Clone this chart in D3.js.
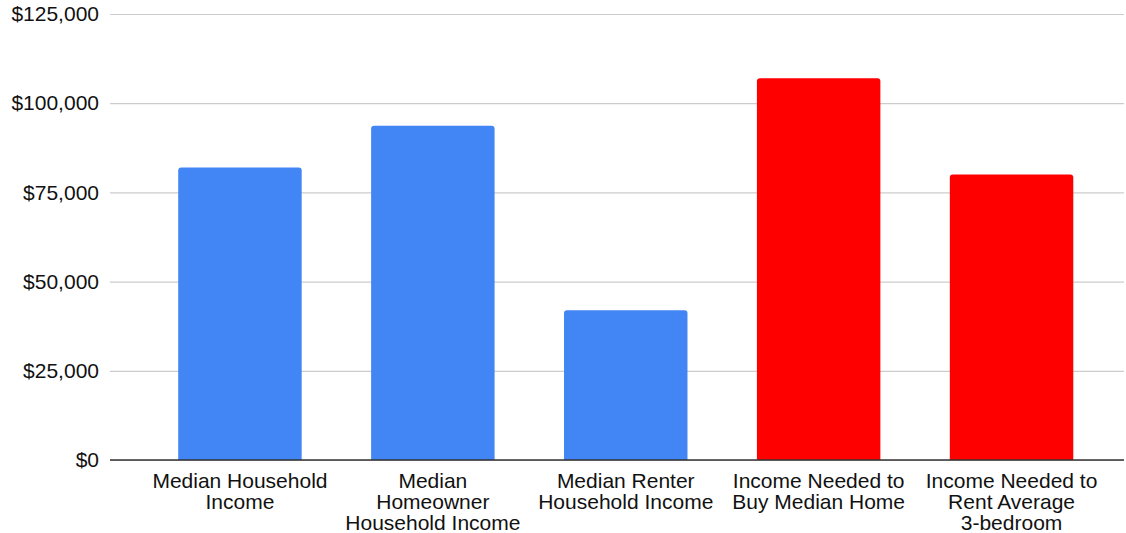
<!DOCTYPE html>
<html>
<head>
<meta charset="utf-8">
<script src="https://cdn.jsdelivr.net/npm/d3@7"></script>
<style>
  html, body { margin: 0; padding: 0; background: #ffffff; }
  svg { display: block; }
  text { font-family: "Liberation Sans", Arial, Helvetica, sans-serif; fill: #111111; }
</style>
</head>
<body>
<svg id="chart" width="1126" height="533"></svg>
<script>
// Category labels (each entry is the wrapped lines of one label)
const categories = [
  ["Median Household", "Income"],
  ["Median", "Homeowner", "Household Income"],
  ["Median Renter", "Household Income"],
  ["Income Needed to", "Buy Median Home"],
  ["Income Needed to", "Rent Average", "3-bedroom"]
];
// Annual income in dollars
const values = [82000, 93700, 42000, 107000, 80000];
// Bar colour group: income households have vs. income required
const groups = ["have", "have", "have", "need", "need"];
const tickValues = [0, 25000, 50000, 75000, 100000, 125000];

const colors = { have: "#4285f4", need: "#ff0000" };

const svg = d3.select("#chart");
const W = 1126, H = 533;
const margin = { left: 110, right: 2, top: 14, bottom: 73 };
const y0 = H - margin.bottom;

const keys = categories.map((d, i) => i);
const x = d3.scaleBand()
  .domain(keys)
  .range([143.5, 1108])
  .paddingInner(0.36)
  .paddingOuter(0.18);

const y = d3.scaleLinear()
  .domain([0, 125000])
  .range([y0, margin.top]);

const fmt = v => "$" + d3.format(",")(v);

// Horizontal gridlines with dollar labels on the left
const yAxis = d3.axisLeft(y)
  .tickValues(tickValues)
  .tickFormat(fmt)
  .tickSize(-(W - margin.right - margin.left))
  .tickPadding(11);

const gy = svg.append("g")
  .attr("transform", `translate(${margin.left},0)`)
  .call(yAxis);
gy.select(".domain").remove();
gy.selectAll(".tick line").attr("stroke", "#cccccc").attr("stroke-width", 1.2);
gy.selectAll(".tick text")
  .style("font-size", "21px")
  .attr("fill", "#111111");

// Bars with slightly rounded top corners
const r = 3;
function barPath(x0, w, yt, yb) {
  return `M${x0},${yb}V${yt + r}Q${x0},${yt} ${x0 + r},${yt}H${x0 + w - r}Q${x0 + w},${yt} ${x0 + w},${yt + r}V${yb}Z`;
}

svg.append("g").selectAll("path")
  .data(values)
  .join("path")
  .attr("d", (v, i) => barPath(x(i), x.bandwidth(), y(v), y(0)))
  .attr("fill", (v, i) => colors[groups[i]]);

// Baseline
svg.append("line")
  .attr("x1", margin.left).attr("x2", W - margin.right)
  .attr("y1", y(0)).attr("y2", y(0))
  .attr("stroke", "#333333").attr("stroke-width", 1.3);

// Wrapped category labels
const labels = svg.append("g").selectAll("text")
  .data(categories)
  .join("text")
  .attr("text-anchor", "middle")
  .style("font-size", "21px")
  .attr("transform", (d, i) => `translate(${x(i) + x.bandwidth() / 2},${y(0) + 28})`);

labels.selectAll("tspan")
  .data(d => d)
  .join("tspan")
  .attr("x", 0)
  .attr("y", (d, j) => j * 21)
  .text(d => d);
</script>
</body>
</html>
